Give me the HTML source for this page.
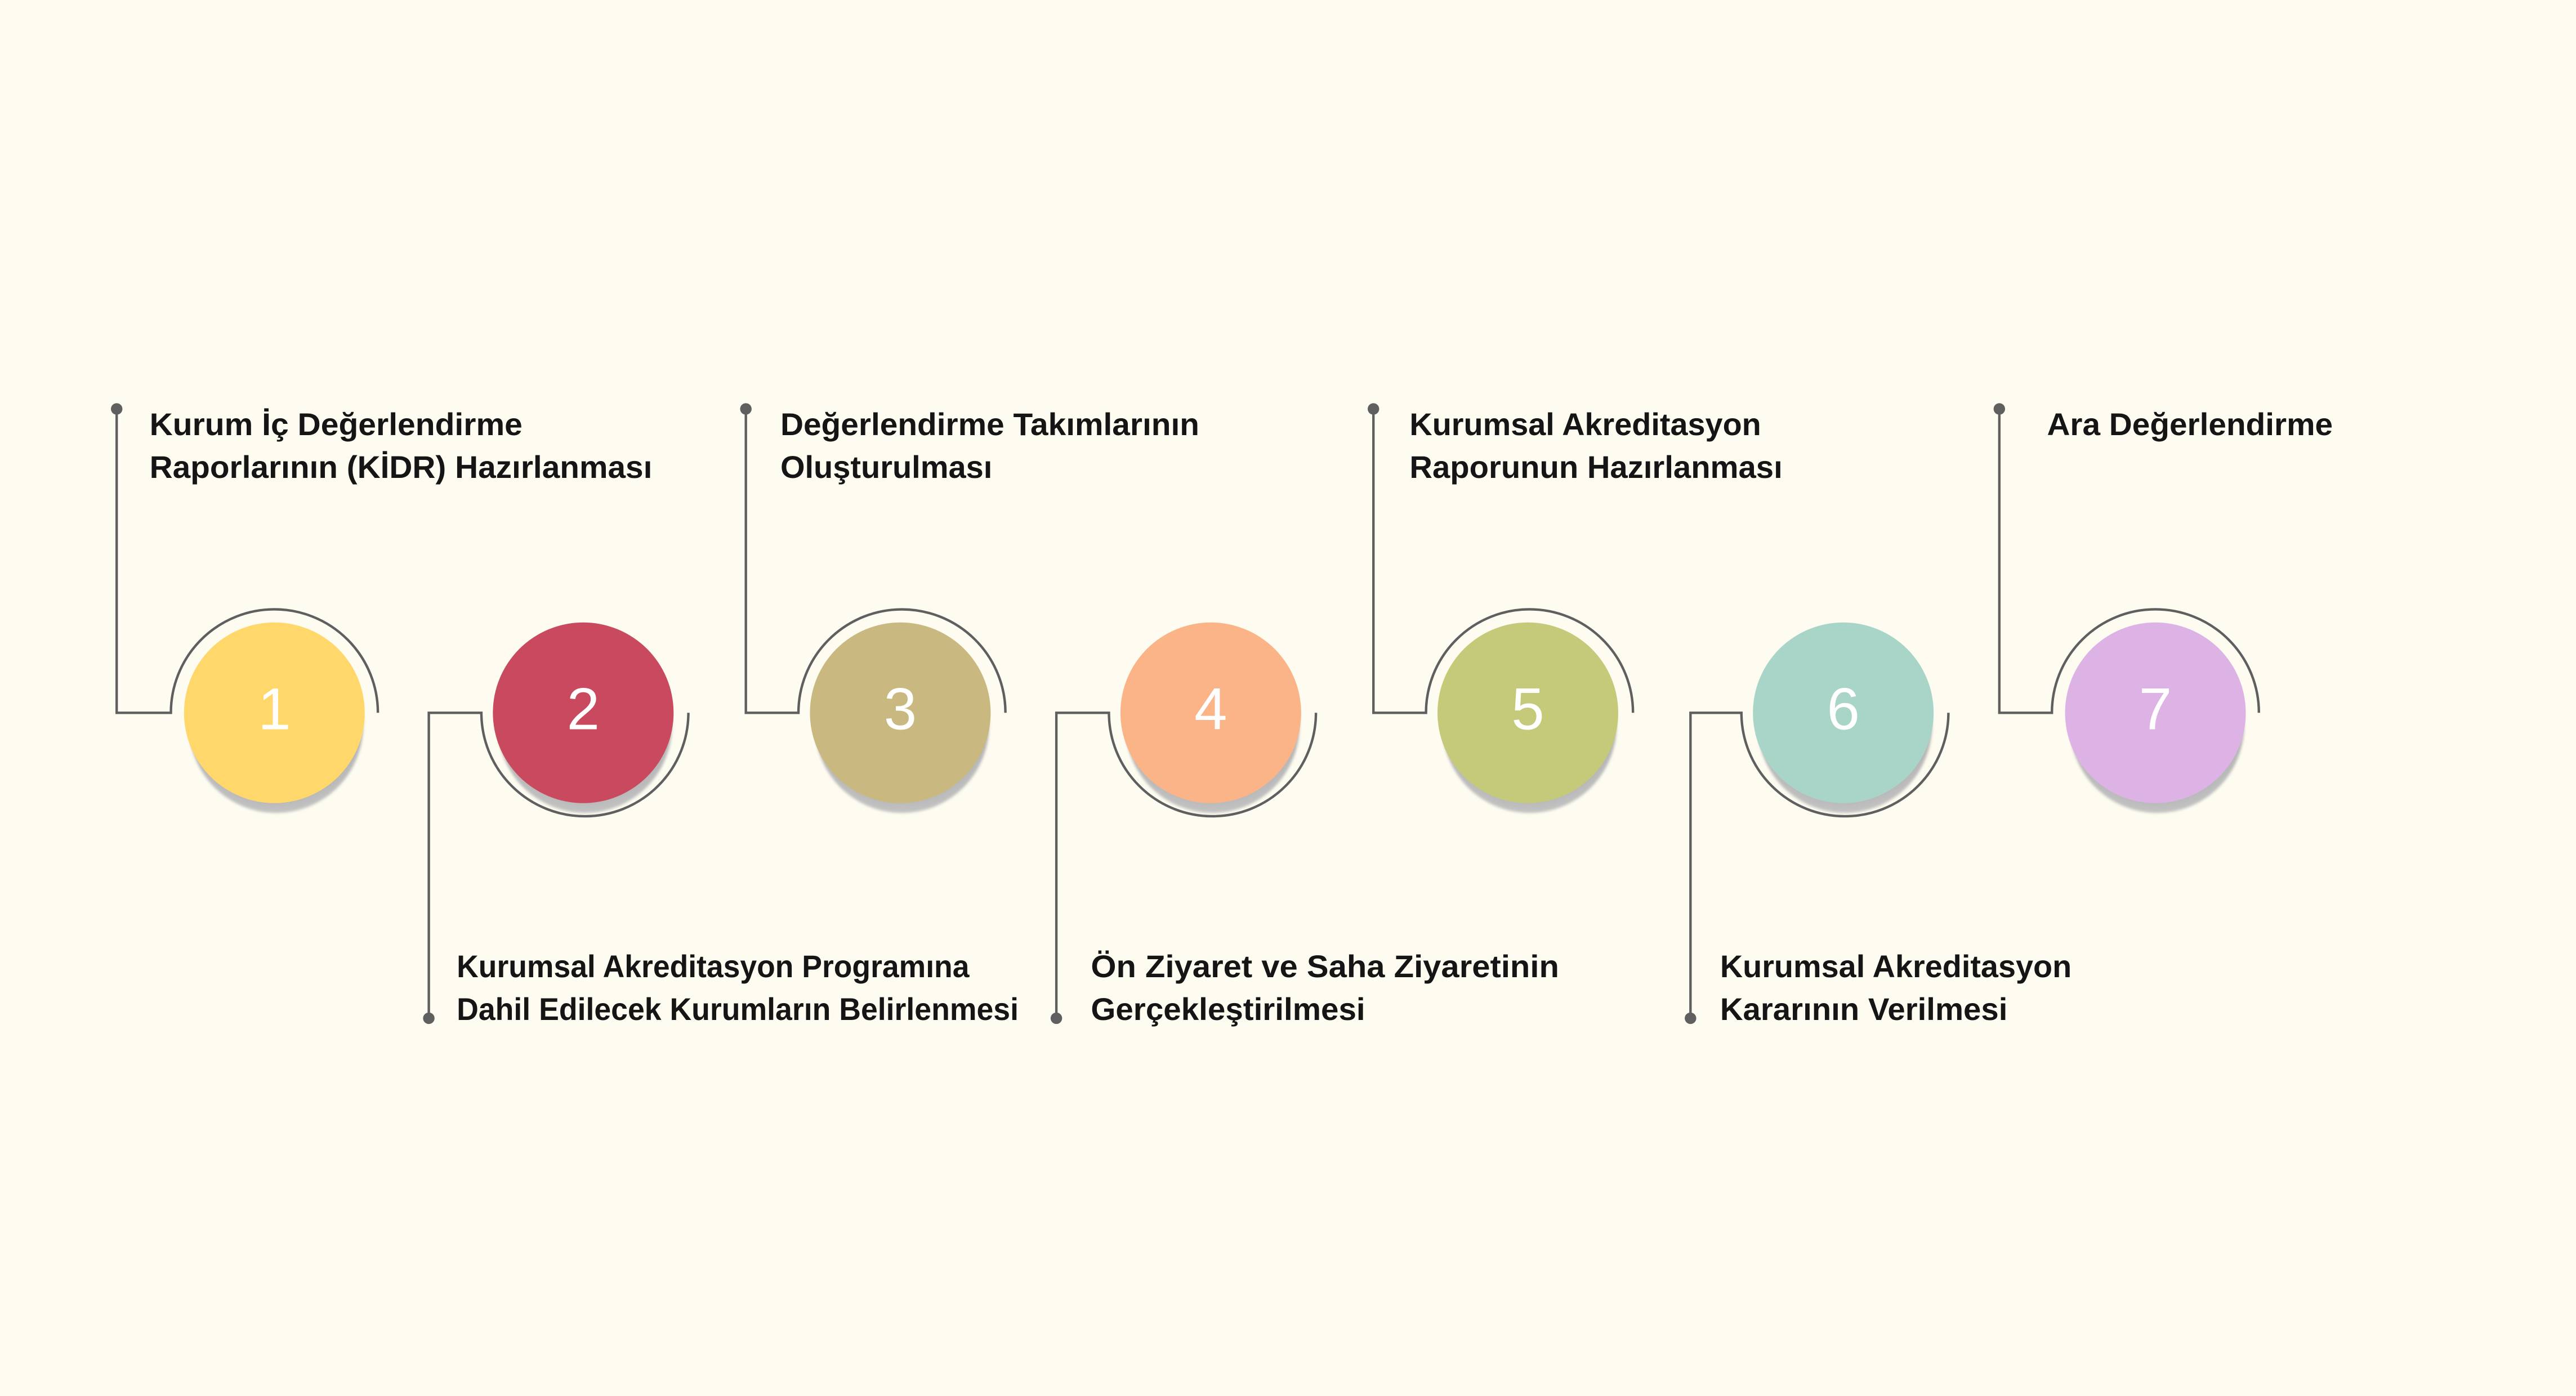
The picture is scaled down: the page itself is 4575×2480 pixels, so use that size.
<!DOCTYPE html>
<html><head><meta charset="utf-8"><style>
html,body{margin:0;padding:0;background:#FEFCF0;}
svg{display:block;}
text{font-family:"Liberation Sans","DejaVu Sans",sans-serif;}
.t{font-size:19px;font-weight:bold;fill:#151515;}
.n{font-size:36px;fill:#fff;text-anchor:middle;}
</style></head><body>
<svg width="4575" height="2480" viewBox="0 0 1568 850" xmlns="http://www.w3.org/2000/svg">
<defs>
<radialGradient id="sh" cx="0.5" cy="0.4" r="0.6"><stop offset="0.6" stop-color="#9a9a9a"/><stop offset="1" stop-color="#c4c4c4"/></radialGradient>
<filter id="bl"><feGaussianBlur stdDeviation="0.8"/></filter>
</defs>
<rect width="1568" height="850" fill="#FEFCF0"/>
<g fill="none" stroke="#5f5f5f" stroke-width="1.5">
<!-- 1 top -->
<path d="M71 250 V434 H104 A63 63 0 0 1 230 434"/>
<!-- 2 bottom -->
<path d="M261 619 V434 H293 A63 63 0 0 0 419 434"/>
<!-- 3 top -->
<path d="M454 250 V434 H486 A63 63 0 0 1 612 434"/>
<!-- 4 bottom -->
<path d="M643 619 V434 H675 A63 63 0 0 0 801 434"/>
<!-- 5 top -->
<path d="M836 250 V434 H868 A63 63 0 0 1 994 434"/>
<!-- 6 bottom -->
<path d="M1029 619 V434 H1060 A63 63 0 0 0 1186 434"/>
<!-- 7 top -->
<path d="M1217 250 V434 H1249 A63 63 0 0 1 1375 434"/>
</g>
<g fill="#5f5f5f">
<circle cx="71" cy="249" r="3.5"/><circle cx="261" cy="620" r="3.5"/><circle cx="454" cy="249" r="3.5"/><circle cx="643" cy="620" r="3.5"/><circle cx="836" cy="249" r="3.5"/><circle cx="1029" cy="620" r="3.5"/><circle cx="1217" cy="249" r="3.5"/>
</g>
<g fill="url(#sh)" filter="url(#bl)">
<circle cx="168" cy="442" r="53"/><circle cx="356" cy="442" r="53"/><circle cx="549" cy="442" r="53"/><circle cx="738" cy="442" r="53"/><circle cx="931" cy="442" r="53"/><circle cx="1123" cy="442" r="53"/><circle cx="1313" cy="442" r="53"/>
</g>
<circle cx="167" cy="434" r="55" fill="#FFD76B"/>
<circle cx="355" cy="434" r="55" fill="#C94A5E"/>
<circle cx="548" cy="434" r="55" fill="#C9B880"/>
<circle cx="737" cy="434" r="55" fill="#FBB487"/>
<circle cx="930" cy="434" r="55" fill="#C5C97A"/>
<circle cx="1122" cy="434" r="55" fill="#A8D5C8"/>
<circle cx="1312" cy="434" r="55" fill="#DDB3E6"/>
<text class="n" x="167" y="444">1</text>
<text class="n" x="355" y="444">2</text>
<text class="n" x="548" y="444">3</text>
<text class="n" x="737" y="444">4</text>
<text class="n" x="930" y="444">5</text>
<text class="n" x="1122" y="444">6</text>
<text class="n" x="1312" y="444">7</text>
<g class="t">
<text class="t" x="91" y="265" textLength="227" lengthAdjust="spacingAndGlyphs">Kurum İç Değerlendirme</text>
<text class="t" x="91" y="291" textLength="306" lengthAdjust="spacingAndGlyphs">Raporlarının (KİDR) Hazırlanması</text>
<text class="t" x="278" y="595" textLength="312" lengthAdjust="spacingAndGlyphs">Kurumsal Akreditasyon Programına</text>
<text class="t" x="278" y="621" textLength="342" lengthAdjust="spacingAndGlyphs">Dahil Edilecek Kurumların Belirlenmesi</text>
<text class="t" x="475" y="265" textLength="255" lengthAdjust="spacingAndGlyphs">Değerlendirme Takımlarının</text>
<text class="t" x="475" y="291" textLength="129" lengthAdjust="spacingAndGlyphs">Oluşturulması</text>
<text class="t" x="664" y="595" textLength="285" lengthAdjust="spacingAndGlyphs">Ön Ziyaret ve Saha Ziyaretinin</text>
<text class="t" x="664" y="621" textLength="167" lengthAdjust="spacingAndGlyphs">Gerçekleştirilmesi</text>
<text class="t" x="858" y="265" textLength="214" lengthAdjust="spacingAndGlyphs">Kurumsal Akreditasyon</text>
<text class="t" x="858" y="291" textLength="227" lengthAdjust="spacingAndGlyphs">Raporunun Hazırlanması</text>
<text class="t" x="1047" y="595" textLength="214" lengthAdjust="spacingAndGlyphs">Kurumsal Akreditasyon</text>
<text class="t" x="1047" y="621" textLength="175" lengthAdjust="spacingAndGlyphs">Kararının Verilmesi</text>
<text class="t" x="1246" y="265" textLength="174" lengthAdjust="spacingAndGlyphs">Ara Değerlendirme</text>
</g>
</svg>
</body></html>
